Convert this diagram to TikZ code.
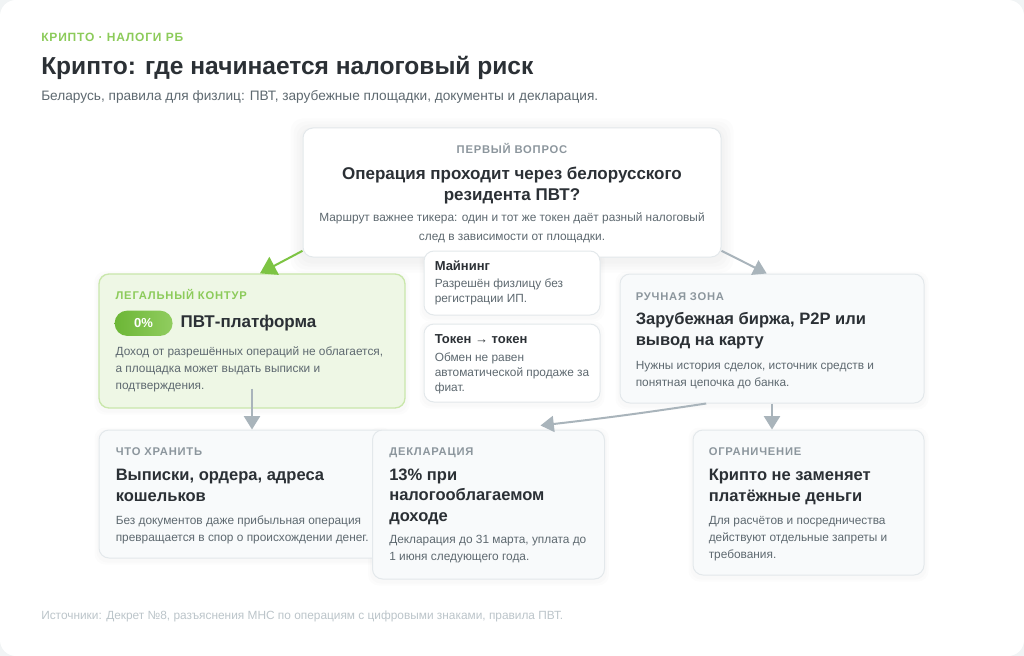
\documentclass[tikz,border=0pt]{standalone}
\usepackage{fontspec}
\setmainfont{Liberation Sans}
\newfontfamily\capsfont[LetterSpace=7]{Liberation Sans}
\usepackage{xcolor}
\usetikzlibrary{positioning,arrows.meta,backgrounds}
\pgfdeclarelayer{sombra}
\pgfsetlayers{background,sombra,main}
\definecolor{fondo}{HTML}{F1F4F5}
\definecolor{tinta}{HTML}{2B3035}
\definecolor{texto}{HTML}{5E6970}
\definecolor{etiqueta}{HTML}{8C969D}
\definecolor{borde}{HTML}{E3E8EB}
\definecolor{tarjeta}{HTML}{F8FAFB}
\definecolor{verde}{HTML}{7DC443}
\definecolor{verdeosc}{HTML}{6CB636}
\definecolor{verdetexto}{HTML}{8CCB5A}
\definecolor{verdefondo}{HTML}{EEF7E5}
\definecolor{verdeborde}{HTML}{C9E7AB}
\definecolor{gris}{HTML}{A9B4BB}
\definecolor{pie}{HTML}{BCC5CA}

\begin{document}
\begin{tikzpicture}[x=0.75pt, y=-0.75pt, >={Triangle[length=10pt, width=12pt]},
      card/.style={draw=borde, fill=tarjeta, rounded corners=7.5pt, line width=0.75pt, inner sep=0pt},
      kick/.style={anchor=base west, inner sep=0pt, text=etiqueta,
                   font=\capsfont\bfseries\fontsize{8.4}{10}\selectfont},
      head/.style={anchor=base west, inner sep=0pt, align=left, text=tinta,
                   font=\bfseries\fontsize{12.4}{15.5}\selectfont},
      txt/.style={anchor=base west, inner sep=0pt, align=left, text=texto,
                  font=\fontsize{8.9}{12.75}\selectfont},
      flecha/.style={->, draw=gris, line width=1.5pt}]
    \useasboundingbox (0,0) rectangle (1024,656);
    \begin{scope}[on background layer]
      \fill[fondo] (0,0) rectangle (1024,656);
      \fill[white, rounded corners=12pt] (0,0) rectangle (1024,656);
    \end{scope}

    % cabecera
    \node[kick, text=verdetexto, font=\capsfont\bfseries\fontsize{9}{10}\selectfont] (tema) at (41,42) {КРИПТО · НАЛОГИ РБ};
    \node[head, font=\bfseries\fontsize{18.4}{20}\selectfont] (titulo) at (41,75) {Крипто: где начинается налоговый риск};
    \node[txt, font=\fontsize{10.25}{12}\selectfont] (bajada) at (41,101)
        {Беларусь, правила для физлиц: ПВТ, зарубежные площадки, документы и декларация.};

    % primer vopros
    \node[card, fill=white, minimum width=313.5pt, minimum height=96.75pt] (q) at (512,192.5) {};
    \node[kick, anchor=base] (qk) at ([shift={(0,26)}]q.north) {ПЕРВЫЙ ВОПРОС};
    \node[head, anchor=base, align=center, font=\bfseries\fontsize{12.75}{15.75}\selectfont] (qh) at ([shift={(0,73)}]q.north)
        {Операция проходит через белорусского\\резидента ПВТ?};
    \node[txt, anchor=base, align=center, font=\fontsize{8.9}{14.25}\selectfont] (qt) at ([shift={(0,113)}]q.north)
        {Маршрут важнее тикера: один и тот же токен даёт разный налоговый\\след в зависимости от площадки.};

    % legalny kontur
    \node[card, draw=verdeborde, fill=verdefondo, line width=1pt, minimum width=229.5pt, minimum height=100.5pt] (legal) at (252,341) {};
    \node[kick, text=verdetexto] (legalk) at ([shift={(17,26)}]legal.north west) {ЛЕГАЛЬНЫЙ КОНТУР};
    \node[anchor=north west, minimum width=43.5pt, minimum height=19pt, inner sep=0pt, rounded corners=9.5pt,
          left color=verdeosc, right color=verde!85!white, text=white, font=\bfseries\fontsize{9.75}{11}\selectfont]
          (cero) at ([shift={(16,37)}]legal.north west) {0\%};
    \node[head, font=\bfseries\fontsize{12.75}{15.5}\selectfont] (legalh) at ([shift={(82,54)}]legal.north west) {ПВТ-платформа};
    \node[txt] (legalt) at ([shift={(17,116)}]legal.north west)
        {Доход от разрешённых операций не облагается,\\а площадка может выдать выписки и\\подтверждения.};

    % ruchnaya zona
    \node[card, minimum width=228pt, minimum height=96.75pt] (manual) at (772,338.5) {};
    \node[kick] (manualk) at ([shift={(16,27)}]manual.north west) {РУЧНАЯ ЗОНА};
    \node[head] (manualh) at ([shift={(16,72)}]manual.north west) {Зарубежная биржа, P2P или\\вывод на карту};
    \node[txt] (manualt) at ([shift={(16,113)}]manual.north west)
        {Нужны история сделок, источник средств и\\понятная цепочка до банка.};

    % mayning i token
    \node[card, fill=white, minimum width=132pt, minimum height=48pt] (mine) at (512,283) {};
    \node[head, font=\bfseries\fontsize{9.75}{11}\selectfont] (mineh) at ([shift={(11,20)}]mine.north west) {Майнинг};
    \node[txt, font=\fontsize{8.9}{11.25}\selectfont] (minet) at ([shift={(11,52)}]mine.north west)
        {Разрешён физлицу без\\регистрации ИП.};
    \node[card, fill=white, minimum width=132pt, minimum height=58.5pt] (swap) at (512,363) {};
    \node[head, font=\bfseries\fontsize{9.75}{11}\selectfont] (swaph) at ([shift={(11,20)}]swap.north west) {Токен → токен};
    \node[txt, font=\fontsize{8.9}{11.25}\selectfont] (swapt) at ([shift={(11,68)}]swap.north west)
        {Обмен не равен\\автоматической продаже за\\фиат.};

    % nizhniy ryad
    \node[card, minimum width=216.75pt, minimum height=96pt] (keep) at (243.5,494) {};
    \node[kick] (keepk) at ([shift={(17,26)}]keep.north west) {ЧТО ХРАНИТЬ};
    \node[head] (keeph) at ([shift={(17,72)}]keep.north west) {Выписки, ордера, адреса\\кошельков};
    \node[txt] (keept) at ([shift={(17,112)}]keep.north west)
        {Без документов даже прибыльная операция\\превращается в спор о происхождении денег.};

    \node[card, minimum width=174pt, minimum height=111.75pt] (decl) at (488.5,504.5) {};
    \node[kick] (declk) at ([shift={(17,26)}]decl.north west) {ДЕКЛАРАЦИЯ};
    \node[head] (declh) at ([shift={(17,92)}]decl.north west) {13\% при\\налогооблагаемом\\доходе};
    \node[txt] (declt) at ([shift={(17,131)}]decl.north west)
        {Декларация до 31 марта, уплата до\\1 июня следующего года.};

    \node[card, minimum width=173.25pt, minimum height=108.75pt] (limit) at (808.5,502.5) {};
    \node[kick] (limitk) at ([shift={(16,26)}]limit.north west) {ОГРАНИЧЕНИЕ};
    \node[head] (limith) at ([shift={(16,72)}]limit.north west) {Крипто не заменяет\\платёжные деньги};
    \node[txt] (limitt) at ([shift={(16,129)}]limit.north west)
        {Для расчётов и посредничества\\действуют отдельные запреты и\\требования.};

    % sombra suave
    \begin{pgfonlayer}{sombra}
      \foreach \d in {3,6,9,12}
        \fill[black, opacity=0.012, rounded corners=9pt]
          ([shift={(-\d,-\d+3)}]q.north west) rectangle ([shift={(\d,\d+3)}]q.south east);
      \foreach \n in {legal,manual,keep,decl,limit,mine,swap}
        \foreach \d in {2,4}
          \fill[black, opacity=0.012, rounded corners=8pt]
            ([shift={(-\d,-\d+2)}]\n.north west) rectangle ([shift={(\d,\d+2)}]\n.south east);
    \end{pgfonlayer}

    % strelki
    \draw[->, draw=verde, line width=1.5pt, >={Triangle[length=12pt, width=15pt]}]
        ([yshift=5pt]q.south west) -- ([xshift=6pt]legal.north);
    \draw[flecha] ([yshift=5pt]q.south east) -- ([xshift=-4pt]manual.north);
    \draw[flecha] ([yshift=15pt]legal.south) -- (legal.south |- keep.north);
    \draw[flecha] ([xshift=65pt]manual.south west) to[bend left=1] ([shift={(39pt,3pt)}]decl.north);
    \draw[flecha] (manual.south) -- (manual.south |- limit.north);

    \node[txt, text=pie, font=\fontsize{8.9}{11}\selectfont] (fuentes) at (41,619)
        {Источники: Декрет №8, разъяснения МНС по операциям с цифровыми знаками, правила ПВТ.};
  \end{tikzpicture}
\end{document}
